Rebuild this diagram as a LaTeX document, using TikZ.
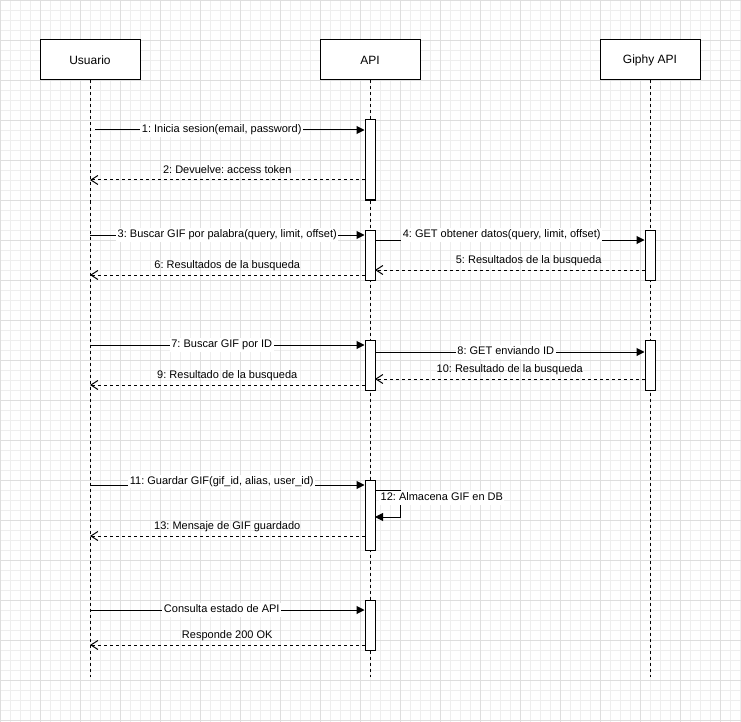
\documentclass[tikz,border=0pt]{standalone}
\usepackage{fontspec}
\setmainfont{Liberation Sans}
\usetikzlibrary{arrows.meta, positioning}

\definecolor{gridminor}{HTML}{EEEEEE}
\definecolor{gridmajor}{HTML}{DEDEDE}

\tikzset{
    actor/.style={draw, fill=white, line width=1pt, minimum width=100pt, minimum height=40pt, inner sep=0pt, font=\fontsize{12pt}{14pt}\selectfont},
    lifeline/.style={line width=1pt, dash pattern=on 3pt off 3pt},
    activation/.style={draw, fill=white, line width=1pt, minimum width=10pt, inner sep=0pt},
    call/.style={line width=1pt, -{Triangle[length=8pt, width=8pt]}},
    reply/.style={line width=1pt, dash pattern=on 3pt off 3pt, -{Straight Barb[length=7pt, width=9pt]}},
    msgtext/.style={inner sep=1.5pt, text height=8pt, text depth=2.5pt, font=\fontsize{11pt}{13pt}\selectfont},
    msg/.style={msgtext, midway, fill=white},
    replymsg/.style={msgtext, midway, yshift=9pt}
}

\begin{document}
\frenchspacing
\begin{tikzpicture}[x=1pt, y=-1pt]
    \useasboundingbox (0,0) rectangle (741,722);
    \fill[white] (0,0) rectangle (741,722);

    % grid
    \foreach \x in {0,10,...,740} \draw[gridminor, line width=0.8pt] (\x,0) -- (\x,722);
    \foreach \y in {0,10,...,720} \draw[gridminor, line width=0.8pt] (0,\y) -- (741,\y);
    \foreach \x in {0,40,...,720} \draw[gridmajor, line width=0.8pt] (\x,0) -- (\x,722);
    \foreach \y in {0,40,...,720} \draw[gridmajor, line width=0.8pt] (0,\y) -- (741,\y);

    % participants
    \node[actor] (usuario) at (90,60) {Usuario};
    \node[actor] (api) at (370,60) {API};
    \node[actor] (giphy) at (650,60) {Giphy API};

    \coordinate (usuarioend) at (90,677);
    \coordinate (apiend) at (370,677);
    \coordinate (giphyend) at (650,677);
    \draw[lifeline] (usuario.south) -- (usuarioend);
    \draw[lifeline] (api.south) -- (apiend);
    \draw[lifeline] (giphy.south) -- (giphyend);

    % activations
    \node[activation, minimum height=80pt] (act1) at (370,160) {};
    \node[activation, minimum height=50pt] (act2) at (370,255) {};
    \node[activation, minimum height=50pt] (act3) at (370,365) {};
    \node[activation, minimum height=70pt] (act4) at (370,515) {};
    \node[activation, minimum height=50pt] (act5) at (370,625) {};
    \node[activation, minimum height=50pt] (gact1) at (650,255) {};
    \node[activation, minimum height=50pt] (gact2) at (650,365) {};

    % message ends
    \coordinate (u1) at (95,130);
    \coordinate (u2) at (90,180);
    \coordinate (u3) at (90,235);
    \coordinate (u6) at (90,275);
    \coordinate (u7) at (90,345);
    \coordinate (u9) at (90,385);
    \coordinate (u11) at (90,485);
    \coordinate (u13) at (90,536);
    \coordinate (u14) at (90,610);
    \coordinate (u15) at (90,645);
    \coordinate (r4) at (375,240);
    \coordinate (r5) at (375,270);
    \coordinate (r8) at (375,352);
    \coordinate (r10) at (375,379);
    \coordinate (r12a) at (375,490);
    \coordinate (r12b) at (375,517);

    % login
    \draw[call] (u1) -- (act1.west |- u1) node[msg, pos=.47] {1: Inicia sesion(email, password)};
    \draw[reply] (act1.west |- u2) -- (u2) node[replymsg] {2: Devuelve: access token};

    % search by word
    \draw[call] (u3) -- (act2.west |- u3) node[msg] {3: Buscar GIF por palabra(query, limit, offset)};
    \draw[call] (r4) -- (gact1.west |- r4) node[msg, pos=.47, yshift=5pt] {4: GET obtener datos(query, limit, offset)};
    \draw[reply] (gact1.west |- r5) -- (r5) node[replymsg, pos=.43] {5: Resultados de la busqueda};
    \draw[reply] (act2.west |- u6) -- (u6) node[replymsg] {6: Resultados de la busqueda};

    % search by id
    \draw[call] (u7) -- (act3.west |- u7) node[msg, pos=.48] {7: Buscar GIF por ID};
    \draw[call] (r8) -- (gact2.west |- r8) node[msg, pos=.485] {8: GET enviando ID};
    \draw[reply] (act3.west |- u9) -- (u9) node[replymsg] {9: Resultado de la busqueda};
    \draw[reply] (gact2.west |- r10) -- (r10) node[replymsg] {10: Resultado de la busqueda};

    % save
    \draw[call] (u11) -- (act4.west |- u11) node[msg, pos=.48, yshift=3.5pt] {11: Guardar GIF(gif\_id, alias, user\_id)};
    \draw[call] (r12a) -- ++(25,0) |- (r12b);
    \node[msgtext, fill=white, anchor=west] (store) at (379,498) {12: Almacena GIF en DB};
    \draw[reply] (act4.west |- u13) -- (u13) node[replymsg] {13: Mensaje de GIF guardado};

    % status
    \draw[call] (u14) -- (act5.west |- u14) node[msg, pos=.48] {Consulta estado de API};
    \draw[reply] (act5.west |- u15) -- (u15) node[replymsg] {Responde 200 OK};
\end{tikzpicture}
\end{document}
